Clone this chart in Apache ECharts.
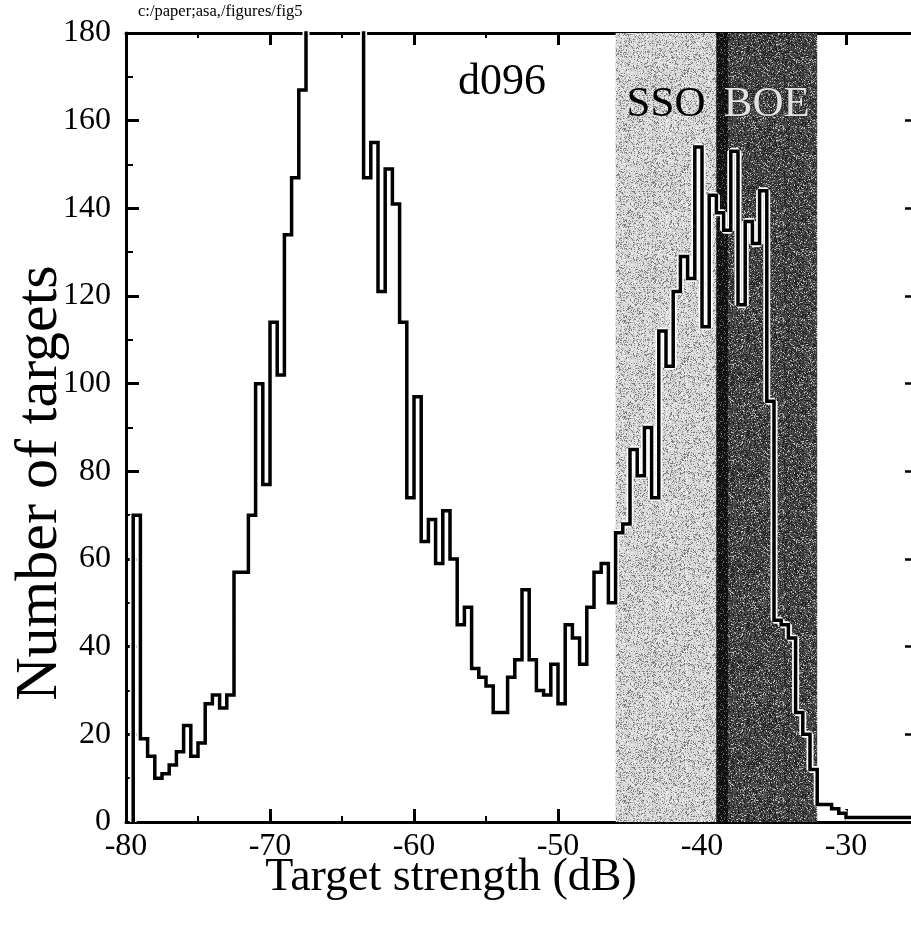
<!DOCTYPE html>
<html>
<head>
<meta charset="utf-8">
<script src="https://cdn.jsdelivr.net/npm/echarts@6/dist/echarts.min.js"></script>
<style>
  html, body { margin: 0; padding: 0; background: #fff; overflow: hidden; }
  #chart { width: 1000px; height: 939px; }
</style>
</head>
<body>
<div id="chart"></div>
<script>
// Histogram of target strength, 0.5 dB bins starting at -79.5 dB
const binStart = -79.5;
const binWidth = 0.5;
const counts = [
  70, 19, 15, 10, 11, 13, 16, 22, 15, 18, 27, 29, 26, 29, 57, 57, 70, 100, 77, 114, 102, 134, 147, 167,
  200, 230, 260, 280, 270, 240, 220, 195,
  147, 155, 121, 149, 141, 114, 74, 97,
  64, 69, 59, 71, 60, 45, 49, 35, 33, 31, 25, 25, 33, 37, 53, 37, 30, 29, 36, 27, 45, 42, 36, 49, 57, 59, 50, 66, 68,
  85, 79, 90, 74, 112, 104, 121, 129, 124, 154, 113, 143, 139, 135, 153, 118, 137, 132, 144, 96,
  46, 45, 42, 25, 20, 12, 4, 4, 3, 2, 1, 1, 1, 1, 1, 1, 1, 1, 1, 1, 1, 1, 1
];

// Shaded target-strength windows (dB)
const ssoRange = [-46, -39];
const boeRange = [-39, -32];
const boeEdge = [-39, -38.2];

// Axis ranges and ticks
const xRange = [-80, -20];
const xStep = 10;
const yRange = [0, 180];
const yStep = 20;

const serif = "'Liberation Serif', 'DejaVu Serif', serif";

// Stippled fill used for the shaded windows (deterministic hash texture)
function stipple(base, levels, seed) {
  const size = 96;
  const c = document.createElement('canvas');
  c.width = size; c.height = size;
  const g = c.getContext('2d');
  g.fillStyle = base;
  g.fillRect(0, 0, size, size);
  for (let y = 0; y < size; y++) {
    for (let x = 0; x < size; x++) {
      let h = (x * 374761393 + y * 668265263 + seed * 982451653) | 0;
      h = Math.imul(h ^ (h >>> 13), 1274126177);
      h = (h ^ (h >>> 16)) >>> 0;
      const t = h / 4294967296;
      for (const [limit, col] of levels) {
        if (t < limit) { g.fillStyle = col; g.fillRect(x, y, 1, 1); break; }
      }
    }
  }
  return { image: c, repeat: 'repeat' };
}

const ssoFill = stipple('#d8d8d8', [[0.14, '#7a7a7a'], [0.27, '#aaaaaa'], [0.42, '#f2f2f2']], 3);
const boeFill = stipple('#4c4c4c', [[0.24, '#1e1e1e'], [0.36, '#303030'], [0.48, '#8a8a8a'], [0.54, '#c4c4c4']], 7);
const edgeFill = stipple('#111111', [[0.10, '#4a4a4a'], [0.14, '#777777']], 11);

// Step outline points: each bin's left edge carries that bin's count
const stepPoints = [[binStart, 0]];
counts.forEach((v, k) => stepPoints.push([binStart + k * binWidth, v]));
stepPoints.push([binStart + counts.length * binWidth, counts[counts.length - 1]]);

const chart = echarts.init(document.getElementById('chart'), null, { renderer: 'canvas' });

const gridLeft = 126, gridTop = 33, gridHeight = 789;
const pxPerDb = 14.4;
const gridWidth = (xRange[1] - xRange[0]) * pxPerDb;
const rightAxisX = 912;

chart.setOption({
  animation: false,
  backgroundColor: '#ffffff',
  grid: { left: gridLeft, top: gridTop, width: gridWidth, height: gridHeight,
          containLabel: false, outerBoundsMode: 'none' },
  xAxis: [
    {
      type: 'value', position: 'bottom', min: xRange[0], max: xRange[1], interval: xStep,
      axisLine: { show: true, onZero: false, lineStyle: { color: '#000', width: 3 } },
      axisTick: { show: true, inside: true, length: 13, lineStyle: { color: '#000', width: 3 } },
      minorTick: { show: true, splitNumber: 2, length: 6, lineStyle: { color: '#000', width: 2 } },
      axisLabel: { color: '#000', fontFamily: serif, fontSize: 32, margin: 9 },
      splitLine: { show: false }
    },
    {
      type: 'value', position: 'top', min: xRange[0], max: xRange[1], interval: xStep,
      axisLine: { show: true, onZero: false, lineStyle: { color: '#000', width: 3 } },
      axisTick: { show: true, inside: true, length: 12, lineStyle: { color: '#000', width: 3 } },
      minorTick: { show: true, splitNumber: 2, length: 5, lineStyle: { color: '#000', width: 2 } },
      axisLabel: { show: false },
      splitLine: { show: false }
    }
  ],
  yAxis: [
    {
      type: 'value', position: 'left', min: yRange[0], max: yRange[1], interval: yStep,
      axisLine: { show: true, onZero: false, lineStyle: { color: '#000', width: 3 } },
      axisTick: { show: true, inside: true, length: 13, lineStyle: { color: '#000', width: 3 } },
      minorTick: { show: true, splitNumber: 2, length: 7, lineStyle: { color: '#000', width: 2 } },
      axisLabel: { color: '#000', fontFamily: serif, fontSize: 32, margin: 15 },
      splitLine: { show: false }
    },
    {
      type: 'value', position: 'right', offset: -(gridLeft + gridWidth - rightAxisX),
      min: yRange[0], max: yRange[1], interval: yStep,
      axisLine: { show: false },
      axisTick: { show: true, inside: true, length: 7, lineStyle: { color: '#000', width: 2.5 } },
      axisLabel: { show: false },
      splitLine: { show: false }
    }
  ],
  series: [
    {
      name: 'halo', type: 'line', step: 'end', data: stepPoints,
      showSymbol: false, symbol: 'none', z: 3,
      lineStyle: { color: '#ffffff', width: 7 },
      markArea: {
        silent: true,
        data: [
          [{ xAxis: ssoRange[0], itemStyle: { color: ssoFill },
             label: { show: true, position: 'insideTop', distance: 50, formatter: 'SSO',
                      color: '#000', fontFamily: serif, fontSize: 43 } },
           { xAxis: ssoRange[1] }],
          [{ xAxis: boeRange[0], itemStyle: { color: boeFill },
             label: { show: true, position: 'insideTop', distance: 50, formatter: 'BOE',
                      color: '#e2e2e2', fontFamily: serif, fontSize: 43,
                      textBorderColor: '#222', textBorderWidth: 1 } },
           { xAxis: boeRange[1] }],
          [{ xAxis: boeEdge[0], itemStyle: { color: edgeFill } }, { xAxis: boeEdge[1] }]
        ]
      }
    },
    {
      name: 'counts', type: 'line', step: 'end', data: stepPoints,
      showSymbol: false, symbol: 'none', z: 4,
      lineStyle: { color: '#000000', width: 3.5, join: 'miter' }
    }
  ],
  graphic: [
    { type: 'text', left: 138, top: 3, z: 10,
      style: { text: 'c:/paper;asa,/figures/fig5', fontFamily: serif, fontSize: 16.5, fill: '#000' } },
    { type: 'text', x: 502, y: 82, z: 10,
      style: { text: 'd096', fontFamily: serif, fontSize: 44, fill: '#000', align: 'center', verticalAlign: 'middle' } },
    { type: 'text', x: 451, y: 878, z: 10,
      style: { text: 'Target strength (dB)', fontFamily: serif, fontSize: 46, fill: '#000', align: 'center', verticalAlign: 'middle' } },
    { type: 'text', x: 40, y: 483, rotation: Math.PI / 2, z: 10,
      style: { text: 'Number of targets', fontFamily: serif, fontSize: 60, fill: '#000', align: 'center', verticalAlign: 'middle' } }
  ]
});
</script>
</body>
</html>
